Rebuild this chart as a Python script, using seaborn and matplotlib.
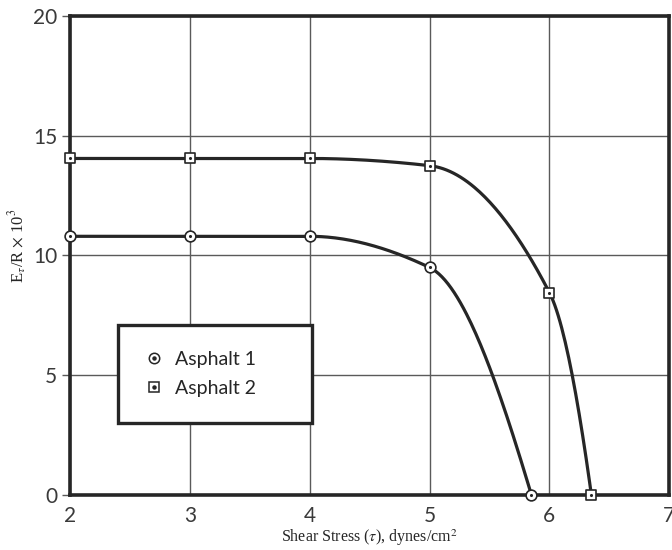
import numpy as np
import pandas as pd
import matplotlib
matplotlib.use("Agg")
import matplotlib.pyplot as plt
from matplotlib.lines import Line2D
from matplotlib.legend_handler import HandlerTuple
import seaborn as sns

# Measured points for each asphalt
shear_1 = [2.0, 3.0, 4.0, 5.0, 5.85]
ratio_1 = [10.8, 10.8, 10.8, 9.5, 0.0]
shear_2 = [2.0, 3.0, 4.0, 5.0, 6.0, 6.35]
ratio_2 = [14.05, 14.05, 14.05, 13.75, 8.45, 0.0]

series_names = ["Asphalt 1", "Asphalt 2"]
x_ticks = [2, 3, 4, 5, 6, 7]
y_ticks = [0, 5, 10, 15, 20]

df = pd.concat([
    pd.DataFrame({"shear": shear_1, "ratio": ratio_1, "sample": series_names[0]}),
    pd.DataFrame({"shear": shear_2, "ratio": ratio_2, "sample": series_names[1]}),
])


def pchip(x, y, n=300):
    """Monotone cubic (Fritsch-Carlson) curve through the measured points."""
    x = np.asarray(x, float)
    y = np.asarray(y, float)
    h = np.diff(x)
    d = np.diff(y) / h
    m = np.zeros_like(y)
    for k in range(1, len(x) - 1):
        if d[k - 1] * d[k] > 0:
            w1 = 2 * h[k] + h[k - 1]
            w2 = h[k] + 2 * h[k - 1]
            m[k] = (w1 + w2) / (w1 / d[k - 1] + w2 / d[k])
    m[0] = d[0]
    m[-1] = d[-1] * 1.5
    xs = np.linspace(x[0], x[-1], n)
    idx = np.clip(np.searchsorted(x, xs) - 1, 0, len(h) - 1)
    t = (xs - x[idx]) / h[idx]
    h00 = 2 * t**3 - 3 * t**2 + 1
    h10 = t**3 - 2 * t**2 + t
    h01 = -2 * t**3 + 3 * t**2
    h11 = t**3 - t**2
    ys = (h00 * y[idx] + h10 * h[idx] * m[idx]
          + h01 * y[idx + 1] + h11 * h[idx] * m[idx + 1])
    return xs, ys


sns.set_theme(style="white")
plt.rcParams["font.family"] = ["Lato", "DejaVu Sans"]
plt.rcParams["mathtext.fontset"] = "stix"

fig = plt.figure(figsize=(6.72, 5.5), dpi=100)
ax = fig.add_axes([0.104, 0.100, 0.892, 0.871])

ink = "#262626"
grid_c = "#5a5a5a"

# Smooth curves through each series
for xs_, ys_ in [(shear_1, ratio_1), (shear_2, ratio_2)]:
    cx, cy = pchip(xs_, ys_)
    sns.lineplot(x=cx, y=cy, ax=ax, color=ink, lw=2.3, zorder=3)

# Markers: hollow outline plus a centre dot
marker_map = {series_names[0]: "o", series_names[1]: "s"}
for name, mk in marker_map.items():
    sub = df[df["sample"] == name]
    sns.scatterplot(data=sub, x="shear", y="ratio", ax=ax, marker=mk, s=60,
                    facecolor="white", edgecolor=ink, linewidth=1.2,
                    zorder=4, clip_on=False, legend=False)
    sns.scatterplot(data=sub, x="shear", y="ratio", ax=ax, marker="o", s=5,
                    color=ink, linewidth=0, zorder=5, clip_on=False,
                    legend=False)

ax.set_xlim(2, 7)
ax.set_ylim(0, 20)
ax.set_xticks(x_ticks)
ax.set_yticks(y_ticks)
ax.grid(True, color=grid_c, lw=1.0)
ax.set_axisbelow(True)
for sp in ax.spines.values():
    sp.set_color(ink)
    sp.set_linewidth(2.6)

ax.tick_params(axis="both", which="both", length=6, width=1.0, color=grid_c,
               labelsize=15, labelcolor="#3a3a3a", pad=3, left=True,
               bottom=False)
ax.tick_params(axis="x", pad=2)

ax.set_xlabel(r"Shear Stress ($\tau$), dynes/cm$^2$",
              family="Liberation Serif", fontsize=11.5, color=ink, labelpad=1)
ax.set_ylabel(r"E$_\tau$/R $\times$ 10$^3$",
              family="Liberation Serif", fontsize=12, color=ink, labelpad=0)
ax.yaxis.set_label_coords(-0.068, 0.52)

# Legend with hollow-plus-dot symbols
handles = []
for name, mk in marker_map.items():
    outer = Line2D([], [], ls="none", marker=mk, ms=7.5, mfc="white",
                   mec=ink, mew=1.1)
    inner = Line2D([], [], ls="none", marker="o", ms=2.2, mfc=ink, mec=ink)
    handles.append((outer, inner))
leg = ax.legend(handles, series_names,
                handler_map={tuple: HandlerTuple(ndivide=1, pad=0)},
                loc="lower left", bbox_to_anchor=(0.08, 0.15, 0.324, 0.205),
                mode="expand", frameon=True, fancybox=False, fontsize=14,
                handlelength=1.0, handletextpad=0.6, labelspacing=0.6,
                borderpad=1.35, borderaxespad=0)
frame = leg.get_frame()
frame.set_edgecolor(ink)
frame.set_linewidth(2.4)
frame.set_facecolor("white")
frame.set_alpha(1)
for t in leg.get_texts():
    t.set_color(ink)

fig.savefig("out.png", dpi=100)
